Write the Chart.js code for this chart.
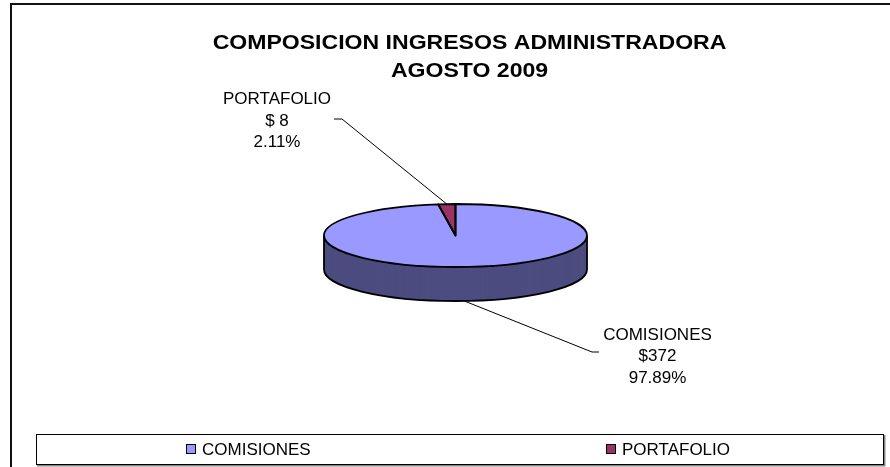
<!DOCTYPE html>
<html>
<head>
<meta charset="utf-8">
<script src="https://cdn.jsdelivr.net/npm/chart.js@4.4.1/dist/chart.umd.min.js"></script>
<style>
  html, body { margin: 0; padding: 0; background: #fff; }
</style>
</head>
<body>
<canvas id="canvas" width="890" height="467"></canvas>
<script>
const categories = ['COMISIONES', 'PORTAFOLIO'];
const ingresos = [372, 8];
const topColors = ['#9999FF', '#993366'];
const sideColors = ['#4C4C80', '#4D1A33'];
const titleLines = ['COMPOSICION INGRESOS ADMINISTRADORA', 'AGOSTO 2009'];

const FONT = "'Liberation Sans', Arial, sans-serif";
const SQUASH = 31.5 / 131.5;   // tilt of the pie
const DEPTH = 34;              // thickness of the pie side

function squash(ctx, cx, cy, dy) {
    ctx.translate(cx, cy + dy);
    ctx.scale(1, SQUASH);
    ctx.translate(-cx, -cy);
}

function arcPath(ctx, a) {
    ctx.beginPath();
    ctx.moveTo(a.x, a.y);
    ctx.arc(a.x, a.y, a.outerRadius, a.startAngle, a.endAngle);
    ctx.closePath();
}

function fmtMoney(v) {
    return '$' + (v < 10 ? ' ' : '') + v;
}

// 3d look: side layers, squashed top, outlines
const pie3d = {
    id: 'pie3d',
    beforeDatasetsDraw(chart) {
        const ctx = chart.ctx;
        const arcs = chart.getDatasetMeta(0).data;
        const {x, y, outerRadius: r} = arcs[0];

        for (let d = DEPTH; d > 0; d--) {
            arcs.forEach(function (a, i) {
                ctx.save();
                squash(ctx, x, y, d);
                arcPath(ctx, a);
                ctx.restore();
                ctx.fillStyle = sideColors[i];
                ctx.fill();
            });
        }

        ctx.save();
        ctx.beginPath();
        ctx.moveTo(x - r, y);
        ctx.lineTo(x - r, y + DEPTH);
        ctx.ellipse(x, y + DEPTH, r, r * SQUASH, 0, Math.PI, 0, true);
        ctx.lineTo(x + r, y);
        ctx.strokeStyle = '#000';
        ctx.lineWidth = 1.8;
        ctx.stroke();
        ctx.restore();

        ctx.save();
        squash(ctx, x, y, 0);
    },
    afterDatasetsDraw(chart) {
        const ctx = chart.ctx;
        ctx.restore();
        const arcs = chart.getDatasetMeta(0).data;
        const {x, y} = arcs[0];
        arcs.forEach(function (a) {
            ctx.save();
            squash(ctx, x, y, 0);
            arcPath(ctx, a);
            ctx.restore();
            ctx.save();
            ctx.lineWidth = 1.8;
            ctx.lineJoin = 'round';
            ctx.strokeStyle = '#000';
            ctx.stroke();
            ctx.restore();
        });
    }
};

const labelLayout = [
    {x: 657.5, y: 339.5, elbow: [592, 352], end: [599, 352]},
    {x: 277, y: 104, elbow: [342, 119], end: [334, 119]},
];

const pieLabels = {
    id: 'pieLabels',
    afterDraw(chart) {
        const ctx = chart.ctx;
        const arcs = chart.getDatasetMeta(0).data;
        const values = chart.data.datasets[0].data;
        const total = values.reduce(function (s, v) { return s + v; }, 0);

        ctx.save();
        arcs.forEach(function (a, i) {
            const mid = (a.startAngle + a.endAngle) / 2;
            const s = Math.sin(mid);
            const px = a.x + a.outerRadius * Math.cos(mid);
            const py = a.y + a.outerRadius * SQUASH * s + (s > 0 ? DEPTH : 0);
            const lay = labelLayout[i];

            ctx.beginPath();
            ctx.moveTo(px, py);
            ctx.lineTo(lay.elbow[0], lay.elbow[1]);
            ctx.lineTo(lay.end[0], lay.end[1]);
            ctx.strokeStyle = '#000';
            ctx.lineWidth = 1;
            ctx.stroke();

            const lines = [
                chart.data.labels[i],
                fmtMoney(values[i]),
                (values[i] / total * 100).toFixed(2) + '%',
            ];
            ctx.fillStyle = '#000';
            ctx.font = '17px ' + FONT;
            ctx.textAlign = 'center';
            ctx.textBaseline = 'alphabetic';
            lines.forEach(function (t, k) {
                ctx.fillText(t, lay.x, lay.y + k * 21.5);
            });
        });
        ctx.restore();
    }
};

const frame = {
    id: 'frame',
    afterDraw(chart) {
        const ctx = chart.ctx;
        ctx.save();

        // outer chart border
        ctx.strokeStyle = '#111';
        ctx.lineWidth = 2;
        ctx.strokeRect(11, 4, 900, 500);

        // title
        ctx.fillStyle = '#000';
        ctx.font = 'bold 20px ' + FONT;
        ctx.textAlign = 'center';
        ctx.textBaseline = 'alphabetic';
        titleLines.forEach(function (t, k) {
            ctx.save();
            ctx.translate(469.5, 49 + k * 28);
            ctx.scale(1.153, 1);
            ctx.fillText(t, 0, 0);
            ctx.restore();
        });

        // legend box
        ctx.fillStyle = '#888';
        ctx.fillRect(37, 465, 848, 1.5);
        ctx.fillRect(884, 435, 1.5, 31);
        ctx.fillStyle = '#fff';
        ctx.fillRect(36, 434, 848, 31);
        ctx.strokeStyle = '#000';
        ctx.lineWidth = 1;
        ctx.strokeRect(36.5, 434.5, 847, 30);

        const itemX = [186, 606];
        ctx.font = '17px ' + FONT;
        ctx.textAlign = 'left';
        chart.data.labels.forEach(function (lab, i) {
            ctx.fillStyle = topColors[i];
            ctx.fillRect(itemX[i] + 0.5, 444.5, 9, 9);
            ctx.strokeStyle = '#000';
            ctx.strokeRect(itemX[i] + 0.5, 444.5, 9, 9);
            ctx.fillStyle = '#000';
            ctx.fillText(lab, itemX[i] + 16, 455);
        });
        ctx.restore();
    }
};

const data = {
    labels: categories,
    datasets: [
        {
            data: ingresos,
            backgroundColor: topColors,
            borderWidth: 0,
            hoverOffset: 0,
        },
    ],
};

const config = {
    type: 'pie',
    data: data,
    options: {
        responsive: false,
        animation: false,
        devicePixelRatio: 1,
        layout: {
            padding: {left: 324, right: 303, top: 104, bottom: 100},
        },
        plugins: {
            legend: {display: false},
            title: {display: false},
            tooltip: {enabled: false},
        },
    },
    plugins: [pie3d, pieLabels, frame],
};

const canvas = document.getElementById('canvas');
const chart = new Chart(canvas, config);
</script>
</body>
</html>
